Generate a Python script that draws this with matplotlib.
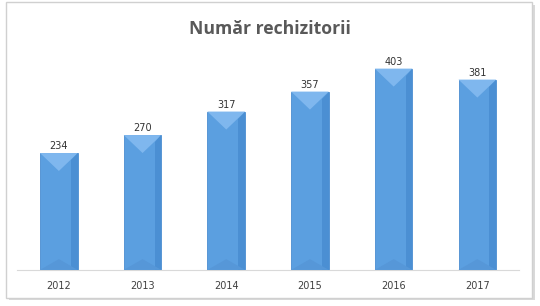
import matplotlib.pyplot as plt
from matplotlib.patches import Rectangle, Polygon

years = ["2012", "2013", "2014", "2015", "2016", "2017"]
values = [234, 270, 317, 357, 403, 381]

fig = plt.figure(figsize=(5.4, 3.06), dpi=100)
# chart border with a soft shadow
fig.patches.append(Rectangle((0.016, 0.018), 0.974, 0.966, transform=fig.transFigure,
                             facecolor="#d9d9d9", edgecolor="none", zorder=0))
fig.patches.append(Rectangle((0.012, 0.026), 0.974, 0.966, transform=fig.transFigure,
                             facecolor="white", edgecolor="#d0d0d0", lw=1, zorder=1))

ax = fig.add_axes([0.0315, 0.118, 0.93, 0.71])
ax.set_zorder(2)
ax.patch.set_alpha(0)

x = range(len(years))
w = 0.45
bars = ax.bar(x, values, width=w, color="#5b9fe0", edgecolor="#4a8dd0", lw=0.6, zorder=2)

d = 36  # bevel depth in data units
for b in bars:
    x0, bw, h = b.get_x(), b.get_width(), b.get_height()
    ax.add_patch(Polygon([(x0, h), (x0 + bw, h), (x0 + bw / 2, h - d)],
                         closed=True, facecolor="#7fb7ee", edgecolor="none", zorder=3))
    ax.add_patch(Polygon([(x0 + bw, h), (x0 + bw, 0), (x0 + bw * 0.82, 0), (x0 + bw * 0.82, h - d * 0.4)],
                         closed=True, facecolor="#4b8fd3", edgecolor="none", zorder=3))
    ax.add_patch(Polygon([(x0, 0), (x0 + bw, 0), (x0 + bw / 2, d * 0.6)],
                         closed=True, facecolor="#5697d8", edgecolor="none", zorder=3))
    ax.text(x0 + bw / 2, h + 4, str(int(h)), ha="center", va="bottom",
            fontsize=7, color="#333333", family="DejaVu Sans")

ax.set_xlim(-0.5, 5.5)
ax.set_ylim(0, 435)
ax.set_xticks(list(x))
ax.set_xticklabels(years, fontsize=7, color="#404040")
ax.tick_params(axis="x", length=0, pad=8)
ax.set_yticks([])
for s in ["top", "left", "right"]:
    ax.spines[s].set_visible(False)
ax.spines["bottom"].set_color("#d9d9d9")

fig.text(0.5, 0.905, "Număr rechizitorii", ha="center", va="center",
         fontsize=12.7, fontweight="bold", color="#595959", family="Open Sans")

fig.savefig("out.png", dpi=100)
